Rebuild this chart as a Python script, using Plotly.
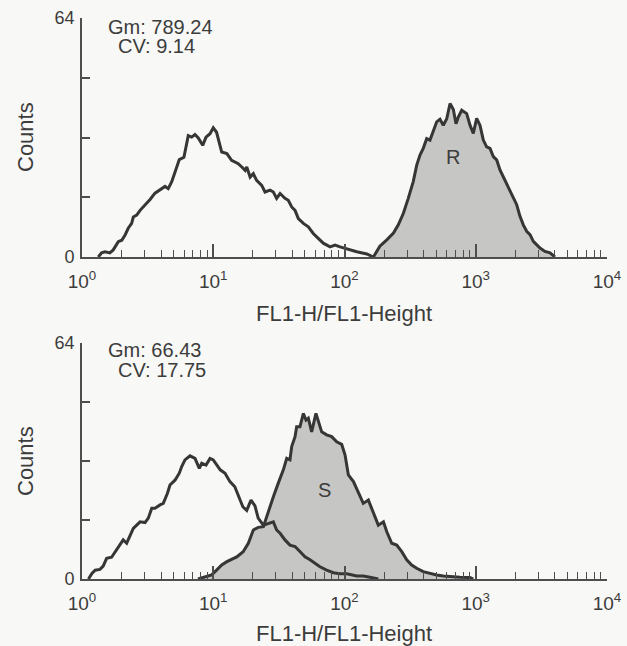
import numpy as np
import plotly.graph_objects as go

# ---------------- data ----------------
# Top panel: control (open) histogram
top_ctrl_x = [1.33, 1.41, 1.50, 1.63, 1.73, 1.89, 2.01, 2.13, 2.25, 2.39, 2.46, 2.61, 2.77, 3.02,
              3.30, 3.60, 3.93, 4.29, 4.54, 4.82, 5.11, 5.51, 5.98, 6.45, 6.85, 7.26, 7.69, 8.31,
              8.81, 9.45, 10.0, 10.6, 11.6, 12.7, 13.8, 14.6, 15.5, 16.5, 17.5, 18.0, 19.1, 20.2,
              21.4, 23.4, 24.8, 27.1, 28.7, 30.4, 32.3, 35.2, 37.3, 39.6, 42.0, 44.5, 48.6, 53.0,
              57.8, 63.1, 68.9, 77.6, 84.7, 92.5, 104, 124, 148, 166]
top_ctrl_y = [0, 1.1, 1.4, 1.1, 1.9, 4.1, 4.5, 5.9, 7.7, 9.0, 10.7, 11.2, 12.5, 13.9,
              15.4, 17.1, 17.9, 18.9, 18.3, 20.1, 22.7, 26.1, 26.7, 32.5, 32.1, 32.8, 31.9, 29.9,
              32.1, 33.0, 34.6, 33.4, 28.1, 27.7, 25.9, 25.4, 25.0, 24.1, 23.2, 24.1, 21.4, 22.3,
              20.5, 19.2, 17.4, 17.9, 17.4, 15.7, 17.0, 15.7, 15.2, 13.4, 12.5, 10.3, 9.0, 8.1,
              6.3, 5.0, 3.7, 2.7, 3.2, 2.7, 2.1, 1.4, 0.8, 0]

# Top panel: resistant (R, filled) histogram
top_r_x = [166, 186, 210, 236, 257, 281, 306, 334, 355, 376, 398, 423, 448, 475, 504, 534, 566,
           601, 637, 675, 707, 737, 782, 853, 904, 958, 1016, 1077, 1142, 1211, 1284, 1361, 1444,
           1530, 1622, 1721, 1824, 1933, 2051, 2173, 2303, 2444, 2590, 2746, 2912, 3087, 3371,
           3680, 4016]
top_r_y = [0, 2.9, 4.6, 6.4, 8.6, 11.7, 15.7, 20.2, 24.6, 27.3, 29.1, 31.7, 31.3, 33.5, 36.2,
           36.9, 35.3, 37.0, 41.1, 39.5, 35.7, 37.5, 39.3, 38.4, 35.3, 33.1, 37.1, 35.3, 31.3,
           29.5, 29.1, 26.9, 26.0, 23.3, 21.5, 19.3, 17.5, 15.7, 14.0, 10.9, 8.6, 6.9, 6.0, 4.2,
           3.3, 2.4, 1.5, 1.1, 0]

# Bottom panel: control (open) histogram
bot_ctrl_x = [1.12, 1.19, 1.26, 1.37, 1.45, 1.54, 1.68, 1.84, 1.95, 2.06, 2.19, 2.32, 2.46, 2.61,
              2.77, 3.02, 3.20, 3.40, 3.60, 3.93, 4.16, 4.47, 4.68, 5.11, 5.51, 5.75, 6.09, 6.65,
              7.26, 7.83, 8.17, 8.81, 9.45, 10.0, 10.6, 11.3, 12.3, 13.4, 14.6, 15.5, 16.8, 18.0,
              19.4, 20.8, 22.0, 24.1, 26.3, 28.7, 30.4, 32.3, 35.2, 38.4, 42.0, 45.8, 50.0, 54.6,
              59.6, 65.0, 73.1, 82.2, 92.5, 104, 124, 139, 156, 181]
bot_ctrl_y = [0, 1.5, 2.4, 2.6, 3.5, 5.6, 5.9, 7.9, 9.2, 10.6, 9.7, 11.5, 13.7, 14.6,
              15.5, 15.3, 16.5, 19.2, 19.2, 20.1, 20.5, 23.2, 25.5, 26.8, 28.7, 30.5, 32.3, 33.4,
              32.7, 30.0, 31.4, 30.9, 32.7, 32.3, 30.9, 29.6, 28.7, 26.4, 25.0, 22.8, 19.6, 18.6,
              21.4, 19.8, 16.5, 14.6, 15.1, 15.5, 13.3, 12.4, 10.6, 9.2, 8.8, 7.4, 6.0, 5.2,
              4.3, 3.3, 2.4, 1.7, 1.4, 1.4, 0.8, 0.8, 0.5, 0]

# Bottom panel: sensitive (S, filled) histogram
bot_s_x = [7.65, 8.91, 9.73, 10.6, 11.6, 12.7, 13.8, 15.1, 16.9, 18.5, 20.2, 22.0, 24.1, 25.5,
           27.1, 28.7, 31.3, 34.2, 36.3, 38.4, 39.6, 42.0, 43.2, 45.8, 48.6, 50.9, 53.0, 56.2,
           60.6, 63.1, 67.0, 73.1, 79.9, 87.2, 95.2, 101, 107, 117, 127, 139, 152, 166, 181, 198,
           210, 229, 250, 273, 298, 325, 355, 398, 448, 504, 566, 637, 759, 904, 958]
bot_s_y = [0, 0.6, 1.1, 2.4, 3.8, 4.7, 5.3, 6.0, 7.4, 9.7, 13.3, 14.0, 14.2, 16.9,
           20.1, 22.3, 26.0, 29.6, 32.7, 32.3, 35.9, 38.6, 41.3, 41.3, 44.9, 43.1, 43.6, 39.9,
           44.9, 43.1, 39.9, 39.1, 38.6, 37.2, 36.5, 33.6, 28.2, 26.4, 23.7, 20.5, 21.4, 17.8,
           14.6, 15.5, 12.8, 9.7, 9.2, 7.4, 5.2, 3.8, 2.9, 2.0, 1.5, 1.1, 0.8, 0.6, 0.5, 0.4, 0]

x_major = [1, 10, 100, 1000, 10000]
x_major_text = ["10<sup>0</sup>", "10<sup>1</sup>", "10<sup>2</sup>", "10<sup>3</sup>", "10<sup>4</sup>"]
x_minor = [m * d for d in [1, 10, 100, 1000] for m in range(2, 10)]
y_ticks = [0, 16, 32, 48, 64]
y_ticktext = ["0", "", "", "", "64"]

top_stats = ["Gm: 789.24", "CV: 9.14"]
bot_stats = ["Gm: 66.43", "CV: 17.75"]
top_label = ("R", 671, 26.7)
bot_label = ("S", 69.8, 24.1)

x_title = "FL1-H/FL1-Height"
y_title = "Counts"

# ---------------- figure ----------------
W, H = 627, 646
LINE = "#363636"
AXIS = "#4e4e4e"
TXT = "#3c3c3c"
FILL = "#c6c6c4"
FONT = "Liberation Sans, Arial, Helvetica, sans-serif"


def px_x(p):
    return p / W


def px_y(p):
    return 1 - p / H


fig = go.Figure()

# top panel
fig.add_trace(go.Scatter(x=top_r_x, y=top_r_y, mode="lines", fill="tozeroy", fillcolor=FILL,
                         line=dict(color=LINE, width=3), xaxis="x", yaxis="y", showlegend=False))
fig.add_trace(go.Scatter(x=top_ctrl_x, y=top_ctrl_y, mode="lines",
                         line=dict(color=LINE, width=3), xaxis="x", yaxis="y", showlegend=False))
# bottom panel
fig.add_trace(go.Scatter(x=bot_s_x, y=bot_s_y, mode="lines", fill="tozeroy", fillcolor=FILL,
                         line=dict(color=LINE, width=3), xaxis="x2", yaxis="y2", showlegend=False))
fig.add_trace(go.Scatter(x=bot_ctrl_x, y=bot_ctrl_y, mode="lines",
                         line=dict(color=LINE, width=3), xaxis="x2", yaxis="y2", showlegend=False))

xdom = [px_x(82), px_x(607)]
xaxis_common = dict(
    type="log", range=[0, 4], domain=xdom, automargin=False,
    showline=True, linecolor=AXIS, linewidth=1.8,
    showgrid=False, zeroline=False, ticks="inside", ticklen=13, tickwidth=1.6, tickcolor=AXIS,
    tickvals=x_major, ticktext=x_major_text, tickfont=dict(family=FONT, size=19, color=TXT),
    ticklabelstandoff=6,
    minor=dict(tickvals=x_minor, ticks="inside", ticklen=7, tickwidth=1.4, tickcolor=AXIS,
               showgrid=False),
)
yaxis_common = dict(
    range=[0, 64], automargin=False, showline=True, linecolor=AXIS, linewidth=1.8,
    showgrid=False, zeroline=False,
    ticks="inside", ticklen=8, tickwidth=1.6, tickcolor=AXIS, tickvals=y_ticks, ticktext=y_ticktext,
    tickfont=dict(family=FONT, size=18, color=TXT), ticklabelstandoff=2,
)

fig.update_layout(
    width=W, height=H, margin=dict(l=0, r=0, t=0, b=0, autoexpand=False),
    paper_bgcolor="#f8f8f6", plot_bgcolor="rgba(0,0,0,0)",
    xaxis=dict(**xaxis_common, anchor="y"),
    yaxis=dict(**yaxis_common, domain=[px_y(257), px_y(18)], anchor="x"),
    xaxis2=dict(**xaxis_common, anchor="y2"),
    yaxis2=dict(**yaxis_common, domain=[px_y(579), px_y(343)], anchor="x2"),
    font=dict(family=FONT, color=TXT),
)

ann = []
# stats text
for stats, ygm, ycv in [(top_stats, 27, 46), (bot_stats, 350, 370)]:
    ann.append(dict(text=stats[0], x=px_x(107), y=px_y(ygm), xref="paper", yref="paper",
                    xanchor="left", yanchor="middle", showarrow=False, borderpad=0,
                    font=dict(family=FONT, size=20, color=TXT)))
    ann.append(dict(text=stats[1], x=px_x(117), y=px_y(ycv), xref="paper", yref="paper",
                    xanchor="left", yanchor="middle", showarrow=False, borderpad=0,
                    font=dict(family=FONT, size=20, color=TXT)))
# R / S labels
for (lab, lx, ly), xr, yr in [(top_label, "x", "y"), (bot_label, "x2", "y2")]:
    ann.append(dict(text=lab, x=np.log10(lx), y=ly, xref=xr, yref=yr, showarrow=False,
                    xanchor="center", yanchor="middle",
                    font=dict(family=FONT, size=20, color=TXT)))
# axis titles
for ty in [313, 633]:
    ann.append(dict(text=x_title, x=px_x(344), y=px_y(ty), xref="paper", yref="paper",
                    xanchor="center", yanchor="middle", borderpad=0,
                    showarrow=False, font=dict(family=FONT, size=22, color=TXT)))
for ty in [137, 461]:
    ann.append(dict(text=y_title, x=px_x(25), y=px_y(ty), xref="paper", yref="paper",
                    xanchor="center", yanchor="middle", borderpad=0,
                    textangle=-90, showarrow=False, font=dict(family=FONT, size=22, color=TXT)))
fig.update_layout(annotations=ann)

fig.write_html("out.html")
